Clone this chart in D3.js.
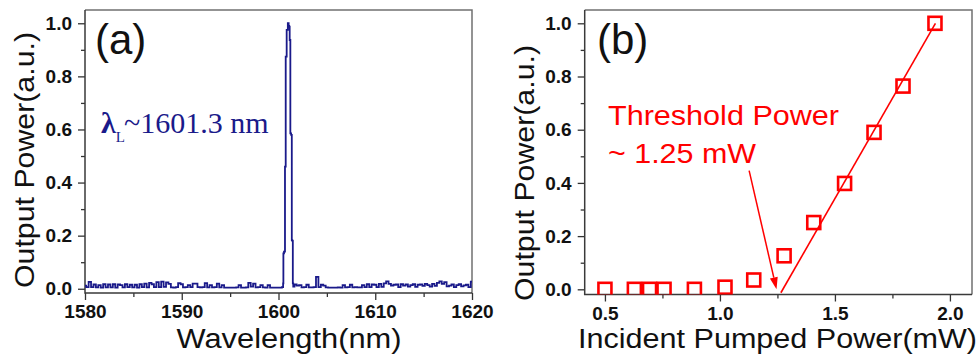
<!DOCTYPE html>
<html>
<head>
<meta charset="utf-8">
<script src="https://cdn.jsdelivr.net/npm/d3@7"></script>
<style>
  body { margin: 0; background: #fff; }
  svg { display: block; }
  text { font-family: 'Liberation Sans', Arial, sans-serif; }
  .tick text { font-weight: bold; font-size: 19px; fill: #111; }
  .tick line { stroke: #333; stroke-width: 1.3; }
</style>
</head>
<body>
<svg id="chart" width="980" height="357"></svg>
<script>
// (a) spectrum: baseline noise sampled every 0.25 nm from 1580 nm, null inside the peak window
const noiseStart = 1580
const noiseStep = 0.25
const noiseLevels = [
    0.012, 0.006, 0.026, 0.006,  0.016, 0.005, 0.014, 0.004,
    0.017, 0.005, 0.016, 0.005,  0.017, 0.004, 0.016, 0.014,
    0.005, 0.017, 0.006, 0.015,  0.005, 0.015, 0.004, 0.017,
    0.006, 0.019, 0.005, 0.022,  0.017, 0.006, 0.025, 0.006,
    0.027, 0.007, 0.024, 0.018,  0.005, 0.004, 0.006, 0.021,
    0.017, 0.005, 0.006, 0.014,  0.006, 0.019, 0.019, 0.006,
    0.005, 0.006, 0.021, 0.005,  0.014, 0.005, 0.006, 0.019,
    0.005, 0.014, 0.004, 0.004,  0.004, 0.004, 0.004, 0.005,
    0.014, 0.004, 0.004, 0.005,  0.022, 0.008, 0.019, 0.005,
    0.006, 0.014, 0.005, 0.004,  0.014, 0.004, 0.004, 0.004,
    0.004, 0.004, null, null,    null, null, null, 0.016,
    0.012, 0.014, 0.005, 0.006,  0.015, 0.005, 0.005, 0.006,
    0.045, 0.006, 0.015, 0.012,  0.005, 0.004, 0.004, 0.004,
    0.004, 0.005, 0.004, 0.014,  0.005, 0.006, 0.015, 0.005,
    0.006, 0.005, 0.005, 0.014,  0.006, 0.017, 0.006, 0.016,
    0.015, 0.006, 0.018, 0.007,  0.020, 0.028, 0.018, 0.012,
    0.015, 0.016, 0.006, 0.017,  0.012, 0.016, 0.008, 0.014,
    0.017, 0.007, 0.015, 0.016,  0.011, 0.018, 0.014, 0.008,
    0.018, 0.011, 0.022, 0.028,  0.018, 0.025, 0.009, 0.012,
    0.016, 0.006, 0.014, 0.017,  0.009, 0.013, 0.015, 0.006,
    0.027
]
const peakWavelength = [1600.45, 1600.50, 1600.51, 1600.63, 1600.71, 1600.78, 1600.91, 1601.02,
    1601.08, 1601.12, 1601.19, 1601.26, 1601.35, 1601.40, 1601.46, 1601.50, 1601.55]
const peakLevel = [0.006, 0.02, 0.133, 0.14, 0.46, 0.874, 0.975, 1.0,
    0.99, 0.987, 0.937, 0.585, 0.58, 0.183, 0.18, 0.02, 0.008]
const wlTicks = [1580, 1590, 1600, 1610, 1620]
const wlMinorTicks = [1585, 1595, 1605, 1615]

// (b) output vs pump power
const pumpPower = [0.50, 0.628, 0.694, 0.757, 0.889, 1.022, 1.147, 1.279, 1.408, 1.542, 1.670, 1.796, 1.935]
const outputPower = [0, 0, 0, 0, 0, 0.008, 0.035, 0.126, 0.251, 0.398, 0.590, 0.764, 1.0]
const fitPump = [1.265, 1.937]
const fitOutput = [-0.013, 1.0]
const arrowPump = [1.127, 1.246]
const arrowOutput = [0.446, 0.0]
const pumpTicks = [0.5, 1.0, 1.5, 2.0]
const pumpMinorTicks = [0.75, 1.25, 1.75]

const powerTicks = [0, 0.2, 0.4, 0.6, 0.8, 1.0]
const powerMinorTicks = [0.1, 0.3, 0.5, 0.7, 0.9]

const NAVY = '#1a1a8a'
const RED = '#ff0000'

const svg = d3.select('#chart')

const drawFrame = (id, x, y, xTicks, xMinor, xFormat) => {
    let [x0, x1] = x.range()
    let [y0, y1] = y.range()
    let g = svg.append('g')

    svg.append('clipPath').attr('id', id)
        .append('rect')
        .attr('x', x0).attr('y', y1)
        .attr('width', x1 - x0).attr('height', y0 - y1)

    // minor ticks, no labels
    g.append('g')
        .attr('transform', `translate(0,${y0})`)
        .call(d3.axisBottom(x).tickValues(xMinor).tickSize(4))
        .selectAll('text').remove()
    g.append('g')
        .attr('transform', `translate(${x0},0)`)
        .call(d3.axisLeft(y).tickValues(powerMinorTicks).tickSize(4))
        .selectAll('text').remove()

    g.append('g')
        .attr('transform', `translate(0,${y0})`)
        .call(d3.axisBottom(x).tickValues(xTicks).tickSize(7).tickPadding(5).tickFormat(xFormat))
    g.append('g')
        .attr('transform', `translate(${x0},0)`)
        .call(d3.axisLeft(y).tickValues(powerTicks).tickSize(7).tickPadding(6).tickFormat(d3.format('.1f')))

    g.selectAll('.domain').remove()

    g.append('path')
        .attr('d', `M${x0},${y1}H${x1}V${y0}`)
        .attr('fill', 'none').attr('stroke', '#707070').attr('stroke-width', 1.5)
    g.append('path')
        .attr('d', `M${x0},${y1}V${y0}H${x1}`)
        .attr('fill', 'none').attr('stroke', '#3a3a3a').attr('stroke-width', 1.5)
}

// wide-set text as in the original figure
const label = (x, y, str, size, width, color, rotate) => {
    let t = svg.append('text')
        .attr('transform', `translate(${x},${y})` + (rotate ? ' rotate(-90)' : ''))
        .style('font-size', `${size}px`).style('fill', color)
        .text(str)
    if (width) t.attr('textLength', width).attr('lengthAdjust', 'spacingAndGlyphs')
    return t
}

// ---------- panel (a)
const xA = d3.scaleLinear().domain([1580, 1620]).range([85, 472])
const yA = d3.scaleLinear().domain([-0.016, 1.05]).range([293, 10])

drawFrame('clipA', xA, yA, wlTicks, wlMinorTicks, d3.format('d'))

let spectrum = noiseLevels
    .map((v, i) => ({ wl: noiseStart + i * noiseStep, v: v }))
    .filter(d => d.v !== null && (d.wl < 1600.45 || d.wl > 1601.55))
    .concat(peakWavelength.map((w, i) => ({ wl: w, v: peakLevel[i] })))
    .sort((a, b) => a.wl - b.wl)

svg.append('path')
    .datum(spectrum)
    .attr('clip-path', 'url(#clipA)')
    .attr('fill', 'none')
    .attr('stroke', NAVY)
    .attr('stroke-width', 1.8)
    .attr('d', d3.line().x(d => xA(d.wl)).y(d => yA(d.v)).curve(d3.curveStep))

label(95, 54, '(a)', 42, null, '#111')

svg.append('text')
    .attr('x', 101).attr('y', 133)
    .style('font-family', "'Liberation Serif', 'Times New Roman', serif")
    .style('font-size', '30px').style('fill', NAVY)
    .html('<tspan font-weight="bold">λ</tspan><tspan dy="9" font-size="15">L</tspan><tspan dy="-9" dx="-1">~1601.3 nm</tspan>')

label(34, 160, 'Output Power(a.u.)', 28, 256, '#111', true).attr('text-anchor', 'middle')
label(289, 348, 'Wavelength(nm)', 27, 225, '#111').attr('text-anchor', 'middle')

// ---------- panel (b)
const xB = d3.scaleLinear().domain([0.412, 2.096]).range([584.7, 972])
const yB = d3.scaleLinear().domain([-0.0195, 1.05]).range([294.5, 10])

drawFrame('clipB', xB, yB, pumpTicks, pumpMinorTicks, d3.format('.1f'))

let plotB = svg.append('g').attr('clip-path', 'url(#clipB)')

plotB.append('path')
    .datum(fitPump.map((p, i) => [p, fitOutput[i]]))
    .attr('fill', 'none')
    .attr('stroke', RED)
    .attr('stroke-width', 1.6)
    .attr('d', d3.line().x(d => xB(d[0])).y(d => yB(d[1])))

const side = 13
plotB.selectAll('rect.pt')
    .data(pumpPower.map((p, i) => [p, outputPower[i]]))
    .enter().append('rect')
    .attr('class', 'pt')
    .attr('x', d => xB(d[0]) - side / 2)
    .attr('y', d => yB(d[1]) - side / 2)
    .attr('width', side).attr('height', side)
    .attr('fill', 'none')
    .attr('stroke', RED)
    .attr('stroke-width', 2.6)

// arrow towards threshold
let ax0 = xB(arrowPump[0]), ay0 = yB(arrowOutput[0])
let ax1 = xB(arrowPump[1]), ay1 = yB(arrowOutput[1])
let ang = Math.atan2(ay1 - ay0, ax1 - ax0)
let headLen = 12, headHalf = 4
let bx = ax1 - headLen * Math.cos(ang), by = ay1 - headLen * Math.sin(ang)

svg.append('line')
    .attr('x1', ax0).attr('y1', ay0)
    .attr('x2', bx).attr('y2', by)
    .attr('stroke', RED).attr('stroke-width', 1.5)

svg.append('path')
    .attr('d', `M${ax1},${ay1}L${bx - headHalf * Math.sin(ang)},${by + headHalf * Math.cos(ang)}L${bx + headHalf * Math.sin(ang)},${by - headHalf * Math.cos(ang)}Z`)
    .attr('fill', RED)

label(597, 54, '(b)', 42, null, '#111')
label(608, 125, 'Threshold Power', 28, 231, RED)
label(608, 163, '~ 1.25 mW', 28, 148, RED)

label(533.5, 173, 'Output Power(a.u.)', 28, 256, '#111', true).attr('text-anchor', 'middle')
label(777.5, 348, 'Incident Pumped Power(mW)', 27, 399, '#111').attr('text-anchor', 'middle')
</script>
</body>
</html>
